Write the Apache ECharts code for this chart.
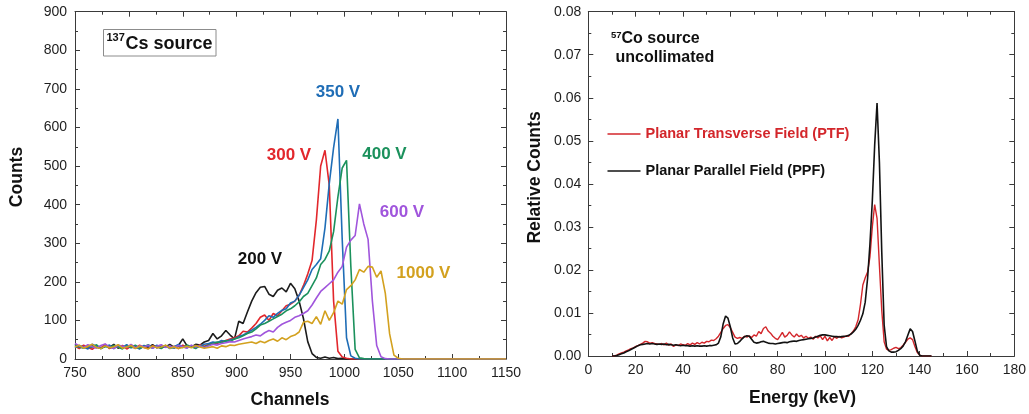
<!DOCTYPE html>
<html>
<head>
<meta charset="utf-8">
<script src="https://cdn.jsdelivr.net/npm/echarts@6/dist/echarts.min.js"></script>
<style>
  html, body { margin: 0; padding: 0; background: #fff; }
  #chart { width: 1029px; height: 414px; }
</style>
</head>
<body>
<div id="chart"></div>
<script>
// ---- 137Cs spectra: counts per channel at several bias voltages ----
const channels = [
  750, 754, 758, 762, 766, 770, 774, 778, 782, 786,
  790, 794, 798, 802, 806, 810, 814, 818, 822, 826,
  830, 834, 838, 842, 846, 850, 854, 858, 862, 866,
  870, 874, 878, 882, 886, 890, 894, 898, 902, 906,
  910, 914, 918, 922, 926, 930, 934, 938, 942, 946,
  950, 954, 958, 962, 966, 970, 974, 978, 982, 986,
  990, 994, 998, 1002, 1006, 1010, 1014, 1018, 1022, 1026,
  1030, 1034, 1038, 1042, 1046, 1050, 1054, 1058, 1062, 1150
];
const counts200V = [
  38, 30, 34, 28, 36, 31, 27, 35, 30, 38,
  28, 33, 29, 36, 31, 27, 34, 30, 37, 29,
  33, 31, 38, 30, 35, 52, 34, 31, 38, 36,
  44, 48, 66, 52, 60, 74, 62, 52, 98, 92,
  122, 150, 172, 186, 188, 168, 162, 178, 184, 174,
  196, 182, 150, 105, 45, 14, 4, 2, 5, 2,
  4, 1, 2, 0, 0, 0, 0, 0, 0, 0,
  0, 0, 0, 0, 0, 0, 0, 0, 0, 0
];
const counts300V = [
  33, 27, 36, 30, 25, 34, 29, 38, 27, 32,
  30, 35, 26, 33, 28, 36, 30, 27, 34, 31,
  28, 35, 30, 33, 27, 36, 31, 34, 29, 37,
  33, 38, 42, 40, 45, 48, 52, 55, 60, 72,
  70, 80, 92, 108, 114, 100, 118, 112, 125, 138,
  142, 150, 165, 190, 220, 255, 360, 500, 541, 450,
  150, 20, 5, 2, 0, 0, 0, 0, 0, 0,
  0, 0, 0, 0, 0, 0, 0, 0, 0, 0
];
const counts350V = [
  29, 35, 31, 26, 38, 33, 28, 32, 36, 27,
  34, 30, 37, 29, 31, 26, 35, 33, 28, 36,
  30, 34, 27, 32, 38, 31, 29, 35, 30, 33,
  38, 40, 44, 42, 48, 45, 50, 52, 58, 62,
  68, 75, 82, 90, 100, 112, 108, 118, 126, 130,
  145, 150, 165, 185, 205, 232, 245, 260, 340, 455,
  548, 622, 310, 55, 8, 2, 0, 0, 0, 0,
  0, 0, 0, 0, 0, 0, 0, 0, 0, 0
];
const counts400V = [
  36, 31, 28, 34, 30, 37, 27, 33, 29, 35,
  31, 26, 34, 30, 36, 28, 32, 37, 29, 33,
  27, 35, 31, 28, 34, 30, 36, 32, 27, 35,
  31, 36, 40, 44, 42, 48, 46, 52, 55, 60,
  66, 70, 78, 88, 92, 98, 104, 110, 116, 125,
  130, 138, 148, 162, 170, 190, 210, 245, 258, 280,
  330, 420, 495, 515, 240, 25, 3, 1, 0, 0,
  0, 0, 0, 0, 0, 0, 0, 0, 0, 0
];
const counts600V = [
  40, 34, 30, 37, 32, 28, 35, 39, 31, 27,
  36, 33, 30, 38, 29, 34, 31, 36, 28, 33,
  37, 30, 34, 29, 35, 32, 28, 36, 31, 34,
  30, 34, 38, 36, 40, 42, 45, 44, 48, 52,
  55, 58, 62, 60, 68, 74, 70, 82, 90, 95,
  100, 108, 112, 118, 125, 140, 158, 175, 185, 195,
  205, 225, 240, 290, 308, 320, 402, 350, 310, 150,
  35, 6, 1, 0, 0, 0, 0, 0, 0, 0
];
const counts1000V = [
  31, 36, 28, 33, 38, 30, 27, 34, 29, 32,
  37, 28, 31, 35, 27, 33, 30, 26, 34, 29,
  31, 36, 28, 32, 27, 30, 33, 29, 35, 31,
  28, 30, 32, 28, 34, 32, 36, 35, 38, 40,
  42, 44, 40, 46, 42, 48, 52, 46, 55, 50,
  58, 62, 70, 95, 98, 92, 110, 90, 125, 100,
  120, 150, 142, 180, 190, 205, 232, 225, 240, 238,
  212, 228, 170, 65, 10, 2, 0, 0, 0, 0
];

// ---- 57Co spectra: relative counts vs energy (keV) ----
const energies = [
  10, 11, 12, 13, 14, 15, 16, 17, 18, 19,
  20, 21, 22, 23, 24, 25, 26, 27, 28, 29,
  30, 31, 32, 33, 34, 35, 36, 37, 38, 39,
  40, 41, 42, 43, 44, 45, 46, 47, 48, 49,
  50, 51, 52, 53, 54, 55, 56, 57, 58, 59,
  60, 61, 62, 63, 64, 65, 66, 67, 68, 69,
  70, 71, 72, 73, 74, 75, 76, 77, 78, 79,
  80, 81, 82, 83, 84, 85, 86, 87, 88, 89,
  90, 91, 92, 93, 94, 95, 96, 97, 98, 99,
  100, 101, 102, 103, 104, 105, 106, 107, 108, 109,
  110, 111, 112, 113, 114, 115, 116, 117, 118, 119,
  120, 121, 122, 123, 124, 125, 126, 127, 128, 129,
  130, 131, 132, 133, 134, 135, 136, 137, 138, 139,
  140, 141, 142, 143, 144, 145
];
const ptfCounts = [
  0, 0, 0.0002, 0.0005, 0.0007, 0.0009, 0.0012, 0.0014, 0.0017, 0.0019,
  0.0022, 0.0024, 0.0027, 0.003, 0.0034, 0.0033, 0.003, 0.0031, 0.0029, 0.0028,
  0.0027, 0.0029, 0.0026, 0.003, 0.0025, 0.0028, 0.0022, 0.0026, 0.0024, 0.0028,
  0.0026, 0.0025, 0.0029, 0.0026, 0.003, 0.0027, 0.0031, 0.0028, 0.0032, 0.003,
  0.0034, 0.0033, 0.0037, 0.0036, 0.004, 0.0046, 0.0055, 0.0064, 0.0071, 0.0073,
  0.0066, 0.0055, 0.0044, 0.0041, 0.0043, 0.0041, 0.0046, 0.0044, 0.0047, 0.0043,
  0.0049, 0.0046, 0.0057, 0.0052, 0.0064, 0.0068, 0.0058, 0.0053, 0.0046, 0.0041,
  0.0038, 0.0046, 0.0055, 0.0044, 0.0048, 0.0056, 0.0049, 0.0044, 0.0051, 0.0045,
  0.0048, 0.0042, 0.0046, 0.0041, 0.0044, 0.0039, 0.0046, 0.0042, 0.0047, 0.0038,
  0.0046, 0.0035, 0.0043, 0.0036, 0.0045, 0.0041, 0.0046, 0.0042, 0.0044, 0.0047,
  0.0046, 0.0052, 0.0058, 0.0068, 0.0084, 0.012, 0.0165, 0.0182, 0.0195, 0.023,
  0.03, 0.0352, 0.032, 0.021, 0.0105, 0.0033, 0.0016, 0.0013, 0.0015, 0.0018,
  0.002, 0.0017, 0.0019, 0.0025, 0.0032, 0.0039, 0.0042, 0.0038, 0.0022, 0.0008,
  0.0002, 0, 0, 0, 0, 0
];
const ppfCounts = [
  0, 0, 0.0001, 0.0003, 0.0005, 0.0007, 0.001, 0.0012, 0.0015, 0.0018,
  0.0021, 0.0024, 0.0026, 0.0027, 0.0028, 0.0029, 0.0028, 0.0029, 0.0028, 0.0027,
  0.0028, 0.0027, 0.0028, 0.0026, 0.0027, 0.0026, 0.0025, 0.0026, 0.0025, 0.0024,
  0.0025, 0.0024, 0.0024, 0.0023, 0.0024, 0.0023, 0.0024, 0.0023, 0.0023, 0.0024,
  0.0023, 0.0024, 0.0024, 0.0025, 0.0026, 0.003, 0.0045, 0.0075, 0.0093, 0.0088,
  0.0068, 0.0042, 0.0028, 0.0029, 0.0034, 0.004, 0.0045, 0.0047, 0.0046, 0.0039,
  0.0032, 0.003, 0.0031, 0.0033, 0.0034, 0.0032, 0.003, 0.0029, 0.0029, 0.0028,
  0.0029, 0.003, 0.0031, 0.0032, 0.0031, 0.0033, 0.0034, 0.0035, 0.0034, 0.0036,
  0.0037, 0.0038, 0.0039, 0.004, 0.0041, 0.0042, 0.0044, 0.0046, 0.0048, 0.0049,
  0.0049, 0.0048, 0.0047, 0.0046, 0.0045, 0.0045, 0.0044, 0.0045, 0.0046, 0.0046,
  0.0048, 0.0051, 0.0056, 0.0062, 0.0071, 0.0083, 0.0098, 0.0125, 0.018, 0.026,
  0.036, 0.049, 0.0588, 0.045, 0.024, 0.0072, 0.0022, 0.0012, 0.0009, 0.0009,
  0.001, 0.0013, 0.0017, 0.0023, 0.0033, 0.0048, 0.0063, 0.0057, 0.0035, 0.0012,
  0.0002, 0, 0, 0, 0, 0
];

// axis ranges and tick spacing
const channelTicks = { min: 750, max: 1150, interval: 50 };
const countTicks = { min: 0, max: 900, interval: 100 };
const energyTicks = { min: 0, max: 180, interval: 20 };
const relTicks = { min: 0, max: 0.08, interval: 0.01 };

const FONT = '"Liberation Sans", Arial, Helvetica, sans-serif';
const FRAME = '#3a3a3a';

const plainNumber = function (v) { return String(v); };
const twoDecimals = function (v) { return v.toFixed(2); };

function frameAxis(gridIndex, ticks, position, showLabels, margin, formatter) {
  return {
    type: 'value',
    gridIndex: gridIndex,
    position: position,
    min: ticks.min,
    max: ticks.max,
    interval: ticks.interval,
    axisLine: { show: true, onZero: false, lineStyle: { color: FRAME, width: 1 } },
    axisTick: { show: true, inside: true, length: 5, lineStyle: { color: FRAME, width: 1 } },
    minorTick: { show: true, splitNumber: 2, length: 3, lineStyle: { color: FRAME, width: 1 } },
    splitLine: { show: false },
    axisLabel: {
      show: showLabels,
      margin: margin,
      fontSize: 14,
      color: '#1e1e1e',
      fontFamily: FONT,
      showMinLabel: true,
      showMaxLabel: true,
      formatter: formatter || plainNumber
    }
  };
}

function pairs(xs, ys) {
  return xs.map(function (x, i) { return [x, ys[i]]; });
}

function lineSeries(name, xs, ys, color, axisIdx, width) {
  return {
    name: name,
    type: 'line',
    xAxisIndex: axisIdx,
    yAxisIndex: axisIdx,
    data: pairs(xs, ys),
    symbol: 'none',
    showSymbol: false,
    silent: true,
    lineStyle: { color: color, width: width },
    itemStyle: { color: color },
    z: 3
  };
}

const COLORS = {
  v200: '#1c1c1c',
  v300: '#e2272c',
  v350: '#1f6db6',
  v400: '#1b915c',
  v600: '#a055dc',
  v1000: '#d3a11f',
  ptf: '#d3262b',
  ppf: '#121212'
};

function label(text, x, y, color, size) {
  return {
    type: 'text', x: x, y: y, z: 10,
    style: {
      text: text, fill: color,
      font: 'bold ' + size + 'px ' + FONT,
      align: 'center', verticalAlign: 'middle'
    }
  };
}
function leftText(text, x, y, color, size) {
  return {
    type: 'text', x: x, y: y, z: 10,
    style: {
      text: text, fill: color,
      font: 'bold ' + size + 'px ' + FONT,
      align: 'left', verticalAlign: 'middle'
    }
  };
}

const chart = echarts.init(document.getElementById('chart'), null, { renderer: 'canvas' });

chart.setOption({
  animation: false,
  backgroundColor: '#fff',
  grid: [
    { left: 75, top: 11.7, width: 431, height: 347.3 },
    { left: 588.3, top: 11.7, width: 427.7, height: 344.3 }
  ],
  xAxis: [
    frameAxis(0, channelTicks, 'bottom', true, 7),
    frameAxis(0, channelTicks, 'top', false, 7),
    frameAxis(1, energyTicks, 'bottom', true, 7),
    frameAxis(1, energyTicks, 'top', false, 7)
  ],
  yAxis: [
    frameAxis(0, countTicks, 'left', true, 8),
    frameAxis(0, countTicks, 'right', false, 8),
    frameAxis(1, relTicks, 'left', true, 7, twoDecimals),
    frameAxis(1, relTicks, 'right', false, 7, twoDecimals)
  ],
  legend: {
    data: [
      { name: 'Planar Transverse Field (PTF)', textStyle: { color: '#d3262b' } },
      { name: 'Planar Parallel Field (PPF)', textStyle: { color: '#111' } }
    ],
    orient: 'vertical',
    left: 607.5,
    top: 126,
    icon: 'path://M0,0 H33 V1.5 H0 Z',
    itemWidth: 33,
    itemHeight: 1.5,
    itemGap: 21,
    padding: 0,
    selectedMode: false,
    textStyle: { fontSize: 14.5, fontWeight: 'bold', fontFamily: FONT, lineHeight: 16, padding: [0, 0, 0, 0] }
  },
  series: [
    lineSeries('200 V', channels, counts200V, COLORS.v200, 0, 1.6),
    lineSeries('300 V', channels, counts300V, COLORS.v300, 0, 1.6),
    lineSeries('350 V', channels, counts350V, COLORS.v350, 0, 1.6),
    lineSeries('400 V', channels, counts400V, COLORS.v400, 0, 1.6),
    lineSeries('600 V', channels, counts600V, COLORS.v600, 0, 1.6),
    lineSeries('1000 V', channels, counts1000V, COLORS.v1000, 0, 1.6),
    lineSeries('Planar Transverse Field (PTF)', energies, ptfCounts, COLORS.ptf, 2, 1.4),
    lineSeries('Planar Parallel Field (PPF)', energies, ppfCounts, COLORS.ppf, 2, 1.6)
  ],
  graphic: [
    // axis titles
    { type: 'text', x: 17, y: 177, rotation: Math.PI / 2, z: 10,
      style: { text: 'Counts', fill: '#111', font: 'bold 17.5px ' + FONT, align: 'center', verticalAlign: 'middle' } },
    label('Channels', 290, 400, '#111', 17.5),
    { type: 'text', x: 535.5, y: 177.5, rotation: Math.PI / 2, z: 10,
      style: { text: 'Relative Counts', fill: '#111', font: 'bold 17.5px ' + FONT, align: 'center', verticalAlign: 'middle' } },
    label('Energy (keV)', 802.5, 398.5, '#111', 17.5),

    // source box, left panel
    { type: 'rect', z: 9, shape: { x: 103.5, y: 29.5, width: 112.5, height: 26.5 },
      style: { fill: '#fff', stroke: '#8c8c8c', lineWidth: 1 } },
    leftText('137', 106.5, 38, '#111', 11),
    leftText('Cs source', 125.5, 44.5, '#111', 18),

    // source note, right panel
    leftText('57', 611, 35, '#111', 9.5),
    leftText('Co source', 621.5, 38.5, '#111', 16),
    leftText('uncollimated', 615.5, 58, '#111', 16),

    // bias voltage labels
    label('350 V', 338, 92, COLORS.v350, 17),
    label('300 V', 289, 155, COLORS.v300, 17),
    label('400 V', 384.5, 154, COLORS.v400, 17),
    label('600 V', 402, 212, COLORS.v600, 17),
    label('200 V', 260, 259.5, '#111', 17),
    label('1000 V', 423.5, 273, COLORS.v1000, 17)
  ]
});
</script>
</body>
</html>
